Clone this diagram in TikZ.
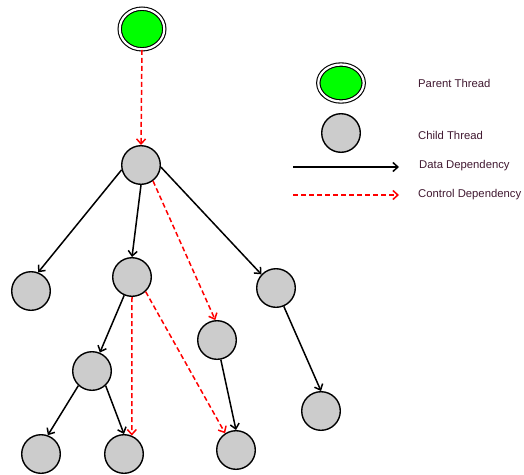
\documentclass[tikz,border=0pt]{standalone}
\usepackage{fontspec}
\setmainfont{Liberation Sans}
\usepackage{xcolor}
\usepackage{tikz}
\usetikzlibrary{shapes.geometric, arrows.meta, positioning}
\definecolor{ThreadGreen}{HTML}{00FF00}
\definecolor{ThreadGray}{HTML}{CCCCCC}
\definecolor{CtrlRed}{HTML}{FF0000}
\definecolor{LabelDark}{HTML}{401830}

\begin{document}
\begin{tikzpicture}[
    x=1pt, y=-1pt,
    parentthread/.style={ellipse, draw=black, double=white, double distance=2.2pt, line width=1.1pt, fill=ThreadGreen, inner sep=0pt, minimum width=44.6pt, minimum height=40.6pt},
    childthread/.style={circle, draw=black, fill=ThreadGray, line width=1.4pt, inner sep=0pt, minimum size=38.6pt},
    dataarrow/.style={-{Straight Barb[length=5pt, width=9pt]}, line width=1.5pt, draw=black},
    ctrlarrow/.style={-{Straight Barb[length=5pt, width=9pt]}, line width=1.5pt, draw=CtrlRed, dash pattern=on 5pt off 3pt},
    legendtext/.style={anchor=west, inner sep=0pt, text=LabelDark, font=\fontsize{11.3}{14}\selectfont}
]
\useasboundingbox (0,0) rectangle (524,474);

% Thread tree
\node[parentthread] (P0) at (142,29) {};
\node[childthread] (C1) at (141,165) {};
\node[childthread] (C2) at (31,291) {};
\node[childthread] (C3) at (132,277) {};
\node[childthread] (C4) at (276,288) {};
\node[childthread] (C5) at (217,340) {};
\node[childthread] (C6) at (92,371) {};
\node[childthread] (C7) at (321,411) {};
\node[childthread] (C8) at (41,454) {};
\node[childthread] (C9) at (124,454) {};
\node[childthread] (C10) at (236,450) {};

% Data dependencies
\draw[dataarrow] (C1.194) -- (C2.69);
\draw[dataarrow] (C1.south) -- (C3.north);
\draw[dataarrow] (C1.-6) -- (C4.137);
\draw[dataarrow] (C3) -- (C6);
\draw[dataarrow] (C4.-67) -- (C7.north);
\draw[dataarrow] (C5.-79) -- (C10.north);
\draw[dataarrow] (C6.-133) -- (C8.70);
\draw[dataarrow] (C6.-47) -- (C9.north);

% Control dependencies
\draw[ctrlarrow] (P0.south) -- (C1.north);
\draw[ctrlarrow] (C1.-53) -- (C5.95);
\draw[ctrlarrow] (C3.south) -- (C9.67);
\draw[ctrlarrow] (C3.-47) -- (C10.123);

% Legend
\node[parentthread, minimum height=37pt, minimum width=45.4pt] (LP) at (341,83) {};
\node[childthread] (LC) at (341,133) {};
\coordinate (LD1) at (293,167);
\coordinate (LD2) at (399,167);
\coordinate (LK1) at (293,195);
\coordinate (LK2) at (399,195);
\draw[dataarrow] (LD1) -- (LD2);
\draw[ctrlarrow] (LK1) -- (LK2);
\node[legendtext] (LPtext) at (418,83) {Parent Thread};
\node[legendtext] (LCtext) at (418,135) {Child Thread};
\node[legendtext] (LDtext) at (419,166) {Data Dependency};
\node[legendtext] (LKtext) at (418,195) {Control Dependency};

\end{tikzpicture}
\end{document}
